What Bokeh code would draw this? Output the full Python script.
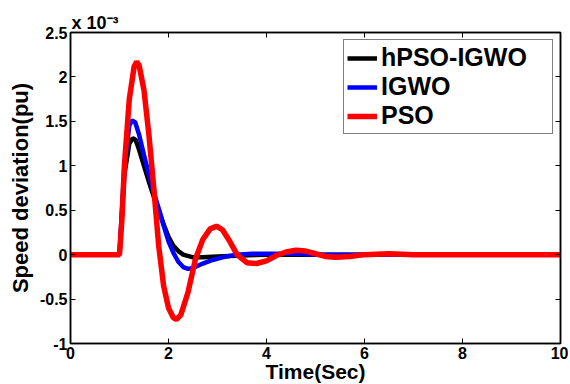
from bokeh.plotting import figure
from bokeh.models import Range1d, LinearAxis, Legend, LegendItem, FixedTicker
from bokeh.embed import file_html
from bokeh.resources import INLINE

# Data (speed deviation in units of 1e-3 pu)
t_pso = [0, 1.0, 1.05, 1.1, 1.2, 1.3, 1.35, 1.4, 1.5, 1.6, 1.7, 1.8, 1.9, 2.0, 2.1, 2.16, 2.25, 2.4, 2.55,
         2.7, 2.85, 2.98, 3.1, 3.25, 3.4, 3.6, 3.8, 4.0, 4.2, 4.4, 4.6, 4.8, 5.0, 5.2, 5.4, 5.7, 6.0, 6.5, 7.0, 10.0]
y_pso = [0, 0, 0.4, 1.0, 1.75, 2.12, 2.17, 2.13, 1.85, 1.35, 0.75, 0.1, -0.35, -0.6, -0.71, -0.73, -0.68, -0.42, -0.05,
         0.17, 0.29, 0.32, 0.28, 0.15, 0.0, -0.09, -0.10, -0.07, -0.01, 0.03, 0.05, 0.04, 0.01, -0.02, -0.03, -0.02, 0.0, 0.01, 0.0, 0.0]

t_igwo = [0, 1.0, 1.05, 1.1, 1.2, 1.25, 1.32, 1.4, 1.5, 1.6, 1.7, 1.8, 1.9, 2.0, 2.1, 2.2, 2.3, 2.4, 2.5,
          2.7, 2.9, 3.1, 3.4, 3.7, 4.2, 4.6, 5.0, 10.0]
y_igwo = [0, 0, 0.5, 1.0, 1.45, 1.51, 1.49, 1.35, 1.12, 0.9, 0.7, 0.52, 0.33, 0.15, 0.02, -0.08, -0.14, -0.16, -0.15,
          -0.10, -0.06, -0.03, 0.0, 0.01, 0.01, 0.01, 0.0, 0.0]

t_hyb = [0, 1.0, 1.05, 1.1, 1.2, 1.27, 1.33, 1.4, 1.5, 1.6, 1.7, 1.8, 1.9, 2.0, 2.1, 2.2, 2.3, 2.5, 2.7, 3.0, 3.5, 4.0, 10.0]
y_hyb = [0, 0, 0.45, 0.9, 1.25, 1.31, 1.29, 1.18, 1.0, 0.82, 0.65, 0.5, 0.34, 0.2, 0.1, 0.04, 0.0, -0.03, -0.03, -0.02, -0.01, 0.0, 0.0]

x_ticks = [0, 2, 4, 6, 8, 10]
y_ticks = [-1, -0.5, 0, 0.5, 1, 1.5, 2, 2.5]
y_tick_labels = {-1: "-1", -0.5: "-0.5", 0: "0", 0.5: "0.5", 1: "1", 1.5: "1.5", 2: "2", 2.5: "2.5"}
scale_text = "x 10\u207b\u00b3"

FONT = "Liberation Sans"

p = figure(frame_width=490, frame_height=311, output_backend="svg", toolbar_location=None,
           x_range=Range1d(0, 10), y_range=Range1d(-1, 2.5),
           min_border_left=70, min_border_right=8, min_border_top=32, min_border_bottom=40)
p.outline_line_color = "black"
p.outline_line_width = 1.5
p.xgrid.visible = False
p.ygrid.visible = False
p.background_fill_color = "white"

p.title.text = scale_text
p.title.align = "left"
p.title.offset = 1
p.title.standoff = 0
p.title.text_font = FONT
p.title.text_font_style = "bold"
p.title.text_font_size = "18px"
p.title.text_color = "black"
p.title.vertical_align = "bottom"

r1 = p.line(t_hyb, y_hyb, line_color="black", line_width=4.5)
r2 = p.line(t_igwo, y_igwo, line_color="blue", line_width=4.5)
r3 = p.line(t_pso, y_pso, line_color="red", line_width=5.5)


def style_axis(ax):
    ax.major_tick_in = 5
    ax.major_tick_out = 0
    ax.minor_tick_in = 0
    ax.minor_tick_out = 0
    ax.axis_line_color = "black"
    ax.axis_line_width = 1.5
    ax.major_tick_line_color = "black"
    ax.major_label_text_font = FONT
    ax.major_label_text_font_style = "bold"
    ax.major_label_text_font_size = "16px"
    ax.major_label_text_color = "black"
    ax.axis_label_text_font = FONT
    ax.axis_label_text_font_style = "bold"
    ax.axis_label_text_font_size = "21px"
    ax.axis_label_text_color = "black"


xa = p.xaxis[0]
xa.ticker = FixedTicker(ticks=x_ticks)
xa.axis_label = "Time(Sec)"
style_axis(xa)
xa.major_label_standoff = 3
xa.axis_label_standoff = -2

ya = p.yaxis[0]
ya.ticker = FixedTicker(ticks=y_ticks)
ya.major_label_overrides = y_tick_labels
ya.axis_label = "Speed deviation(pu)"
style_axis(ya)
ya.axis_label_text_font_size = "22px"
ya.major_label_standoff = 3
ya.axis_label_standoff = 4

top = LinearAxis(ticker=FixedTicker(ticks=x_ticks))
style_axis(top)
top.major_label_overrides = {t: "" for t in x_ticks}
top.major_label_standoff = 0
p.add_layout(top, "above")
right = LinearAxis(ticker=FixedTicker(ticks=y_ticks))
style_axis(right)
right.major_label_overrides = {t: "" for t in y_ticks}
right.major_label_standoff = 0
p.add_layout(right, "right")

legend = Legend(items=[LegendItem(label="hPSO-IGWO", renderers=[r1]),
                       LegendItem(label="IGWO", renderers=[r2]),
                       LegendItem(label="PSO", renderers=[r3])],
                location="top_right")
legend.label_text_font = FONT
legend.label_text_font_style = "bold"
legend.label_text_font_size = "25px"
legend.label_text_color = "black"
legend.glyph_width = 30
legend.glyph_height = 24
legend.label_height = 24
legend.label_width = 168
legend.label_standoff = 4
legend.spacing = 0
legend.padding = 3
legend.margin = 7
legend.border_line_color = "black"
legend.border_line_width = 1.5
legend.background_fill_color = "white"
p.add_layout(legend)

open("out.html", "w").write(file_html(p, INLINE))
